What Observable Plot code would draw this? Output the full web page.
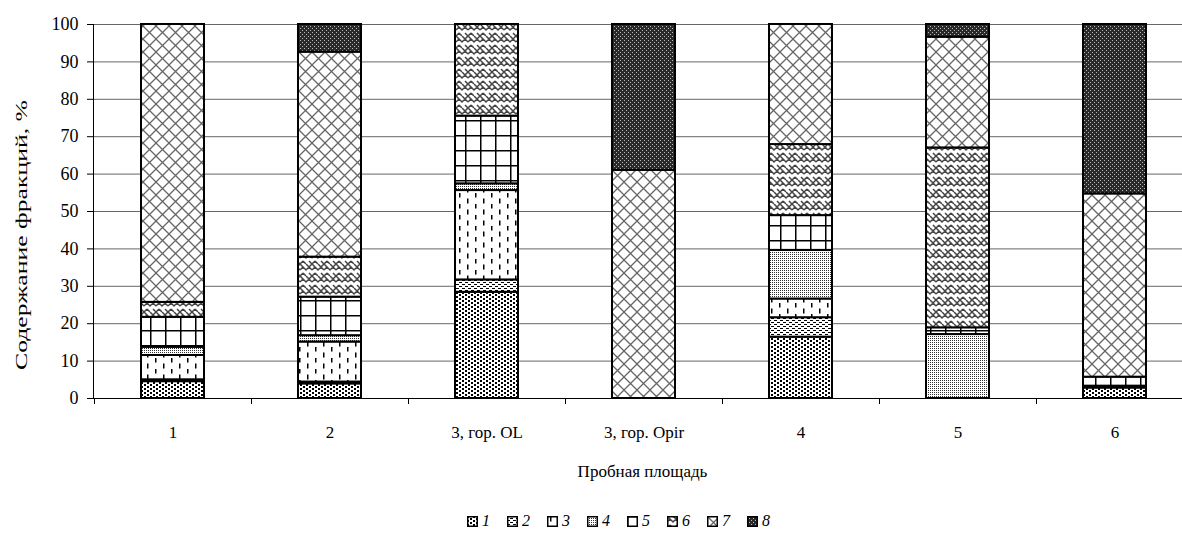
<!DOCTYPE html>
<html><head><meta charset="utf-8">
<script src="https://cdn.jsdelivr.net/npm/d3@7"></script>
<script src="https://cdn.jsdelivr.net/npm/@observablehq/plot@0.6"></script>
<style>
html,body{margin:0;padding:0;background:#fff;overflow:hidden;width:1182px;height:547px;}
#chart{position:relative;width:1194px;height:547px;}
#legend{position:absolute;left:467px;top:512px;display:flex;font-family:"Liberation Serif","Times New Roman",serif;font-style:italic;font-size:16px;line-height:18px;}
.item{display:flex;align-items:center;margin-right:17px}
.item svg{margin-right:4px}
</style></head><body>
<div id="chart"></div>
<script>
const categories = ["1", "2", "3, гор. OL", "3, гор. Opir", "4", "5", "6"];
const fractions = ["1", "2", "3", "4", "5", "6", "7", "8"];
const f1 = [4.5, 3.9, 28.4, 0, 16.4, 0, 2.8];
const f2 = [0.5, 0.5, 3.3, 0, 5.2, 0, 0];
const f3 = [6.5, 10.7, 23.9, 0, 5.0, 0, 0.5];
const f4 = [2.2, 1.7, 1.8, 0, 13.0, 17.1, 0];
const f5 = [8.0, 10.3, 18.1, 0, 9.3, 1.8, 2.4];
const f6 = [4.0, 10.7, 24.5, 0, 19.0, 48.1, 0];
const f7 = [74.3, 54.8, 0, 61.0, 32.1, 29.6, 49.0];
const f8 = [0, 7.4, 0, 39.0, 0, 3.4, 45.3];
const yTicks = [0, 10, 20, 30, 40, 50, 60, 70, 80, 90, 100];
const yTitle = "Содержание фракций, %";
const xTitle = "Пробная площадь";

const series = [f1, f2, f3, f4, f5, f6, f7, f8];
const rows = [];
series.forEach((vals, i) => vals.forEach((v, j) => {
  if (v > 0) rows.push({cat: categories[j], frac: fractions[i], value: v});
}));

const font = "Liberation Serif, Times New Roman, serif";
const chart = Plot.plot({
  width: 1194, height: 490,
  marginLeft: 93, marginRight: 0, marginTop: 24, marginBottom: 92,
  style: {fontFamily: font, fontSize: "17px", background: "#fff", color: "#000", overflow: "visible"},
  x: {domain: categories, paddingInner: 0.6, paddingOuter: 0.3, align: 0.5},
  y: {domain: [0, 100]},
  color: {type: "ordinal", domain: fractions, range: fractions.map(f => `url(#pat${f})`)},
  marks: [
    Plot.gridY(yTicks, {stroke: "#000", strokeOpacity: 0.6}),
    Plot.barY(rows, {x: "cat", y: "value", fill: "frac", stroke: "#000", strokeWidth: 2}),
    Plot.ruleY([0], {stroke: "#000"}),
    Plot.axisY(yTicks, {tickSize: 6, tickPadding: 9, label: null, fontSize: 18, tickFormat: d => String(d)}),
    Plot.axisX({tickSize: 0, tickPadding: 27, label: null})
  ]
});

const defs = `
<pattern id="pat1" width="6" height="4" patternUnits="userSpaceOnUse"><rect width="6" height="4" fill="#fff"/><rect x="0" y="0" width="2" height="2" fill="#000"/><rect x="3" y="2" width="2" height="2" fill="#000"/></pattern>
<pattern id="pat2" width="6" height="4" patternUnits="userSpaceOnUse"><rect width="6" height="4" fill="#fff"/><rect x="0" y="0" width="3" height="1" fill="#000"/><rect x="3" y="2" width="3" height="1" fill="#000"/></pattern>
<pattern id="pat3" width="16" height="11" patternUnits="userSpaceOnUse"><rect width="16" height="11" fill="#fff"/><rect x="3" y="0.5" width="1.5" height="5" fill="#000"/><rect x="11" y="6" width="1.5" height="4.5" fill="#000"/></pattern>
<pattern id="pat4" width="2" height="2" patternUnits="userSpaceOnUse"><rect width="2" height="2" fill="#fff"/><rect x="0" y="0" width="1" height="1" fill="#333"/></pattern>
<pattern id="pat5" width="15" height="15" patternUnits="userSpaceOnUse"><rect width="15" height="15" fill="#fff"/><rect x="0" y="0" width="15" height="1.5" fill="#000"/><rect x="0" y="0" width="1.5" height="15" fill="#000"/></pattern>
<pattern id="pat6" width="12" height="12" patternUnits="userSpaceOnUse"><rect width="12" height="12" fill="#fff"/><path d="M0,0L6,6L9,3M3,9L6,12M6,0L12,6M0,6L3,3M9,9L12,12M12,0L9,3M0,12L3,9" fill="none" stroke="#444" stroke-width="1.5"/></pattern>
<pattern id="pat7" width="13" height="13" patternUnits="userSpaceOnUse"><rect width="13" height="13" fill="#fff"/><path d="M-2,-2L15,15M15,-2L-2,15" fill="none" stroke="#666" stroke-width="1.3"/></pattern>
<pattern id="pat8" width="4" height="4" patternUnits="userSpaceOnUse"><rect width="4" height="4" fill="#2a2a2a"/><rect x="0" y="0" width="1" height="1" fill="#bbb"/><rect x="2" y="2" width="1" height="1" fill="#bbb"/></pattern>`;

const svg = d3.select(chart);
svg.insert("defs", ":first-child").html(defs);

const xs = chart.scale("x"), ys = chart.scale("y");
const gap = (xs.step - xs.bandwidth) / 2;
const y0 = ys.apply(0), y100 = ys.apply(100);
const g = svg.append("g").attr("stroke", "#000").attr("stroke-width", 1);
const bounds = categories.map(c => xs.apply(c) - gap).concat([xs.apply(categories[categories.length - 1]) + xs.bandwidth + gap]);
bounds.forEach(b => g.append("line").attr("x1", Math.round(b) + 0.5).attr("x2", Math.round(b) + 0.5).attr("y1", y0).attr("y2", y0 + 6));
g.append("line").attr("x1", xs.range[0] + 0.5).attr("x2", xs.range[0] + 0.5).attr("y1", y0).attr("y2", y100);

const midX = (xs.range[0] + xs.range[1]) / 2;
svg.append("text").text(xTitle).attr("x", midX - 1).attr("y", 477).attr("text-anchor", "middle")
  .attr("font-family", font).attr("font-size", 17);
svg.append("text").text(yTitle).attr("transform", `translate(27,${(y0 + y100) / 2 + 24}) rotate(-90)`).attr("text-anchor", "middle")
  .attr("font-family", font).attr("font-size", 16)
  .attr("textLength", 270).attr("lengthAdjust", "spacingAndGlyphs");

const container = document.getElementById("chart");
container.appendChild(chart);

const legend = document.createElement("div");
legend.id = "legend";
fractions.forEach(f => {
  const item = document.createElement("div");
  item.className = "item";
  item.innerHTML = `<svg width="11" height="11"><rect x="0.75" y="0.75" width="9.5" height="9.5" fill="url(#pat${f})" stroke="#000" stroke-width="1.5"/></svg><span>${f}</span>`;
  legend.appendChild(item);
});
container.appendChild(legend);
</script>
</body></html>
